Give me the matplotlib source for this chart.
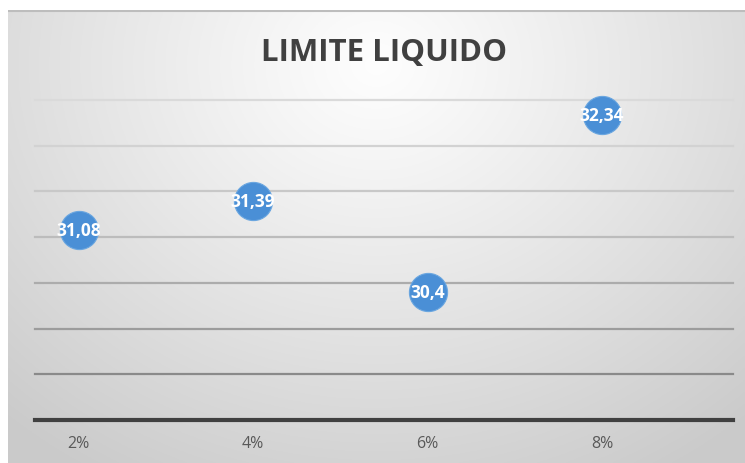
import numpy as np
import matplotlib
matplotlib.use("Agg")
import matplotlib.pyplot as plt

# Limite liquido por porcentaje
porcentajes = [2, 4, 6, 8]
etiquetas_x = ["2%", "4%", "6%", "8%"]
limite_liquido = [31.08, 31.39, 30.4, 32.34]
lineas_y = [29.5, 30.0, 30.5, 31.0, 31.5, 32.0, 32.5]

W, H = 745, 464
fig = plt.figure(figsize=(W / 100, H / 100), dpi=100)
fig.patch.set_facecolor("white")

# fondo con degradado radial del area del grafico
bg = fig.add_axes([8 / W, 0, 1 - 8 / W, (H - 11) / H])
bg.set_axis_off()
gx, gy = np.meshgrid(np.linspace(0, 1, 400), np.linspace(0, 1, 300))
r = np.sqrt(((gx - 0.5) / 0.75) ** 2 + ((gy - 0.12) / 1.05) ** 2)
r = np.clip(r, 0, 1)
val = 0.995 - 0.2 * r ** 1.1
bg.imshow(np.dstack([val, val, val]), aspect="auto", extent=[0, 1, 1, 0])
bg.set_xlim(0, 1)
bg.set_ylim(1, 0)
bg.axhline(0.0015, color="#bdbdbd", lw=1.5)

ax = fig.add_axes([35 / W, (H - 421) / H, (733 - 35) / W, (421 - 101) / H])
ax.patch.set_alpha(0)
ax.set_xlim(1.5, 9.5)
ax.set_ylim(29, 32.5)

# lineas de cuadricula, mas oscuras hacia abajo
grises = ["#8a8a8a", "#9c9c9c", "#acacac", "#bcbcbc", "#c8c8c8", "#d2d2d2", "#dadada"]
for y, c in zip(lineas_y, grises):
    ax.axhline(y, color=c, lw=1.6, zorder=1, clip_on=False)
ax.axhline(29, color="#404040", lw=3, zorder=2, clip_on=False)

ax.plot(porcentajes, limite_liquido, "o", ms=27.5, color="#4a8fd6",
        mec="#6aa6e0", mew=0.8, zorder=3, clip_on=False)
for x, v in zip(porcentajes, limite_liquido):
    ax.text(x, v, f"{v:g}".replace(".", ","), ha="center", va="center",
            color="white", fontsize=12.5, fontweight="bold",
            family="Open Sans", zorder=4)

for s in ax.spines.values():
    s.set_visible(False)
ax.set_yticks([])
ax.set_xticks(porcentajes)
ax.set_xticklabels(etiquetas_x, color="#595959", fontsize=11.5, family="Open Sans")
ax.tick_params(axis="x", length=0, pad=11)

fig.text(0.515, (H - 53) / H, "LIMITE LIQUIDO", ha="center", va="center",
         fontsize=22.5, fontweight="bold", color="#404040", family="Open Sans")

fig.savefig("out.png", dpi=100)
